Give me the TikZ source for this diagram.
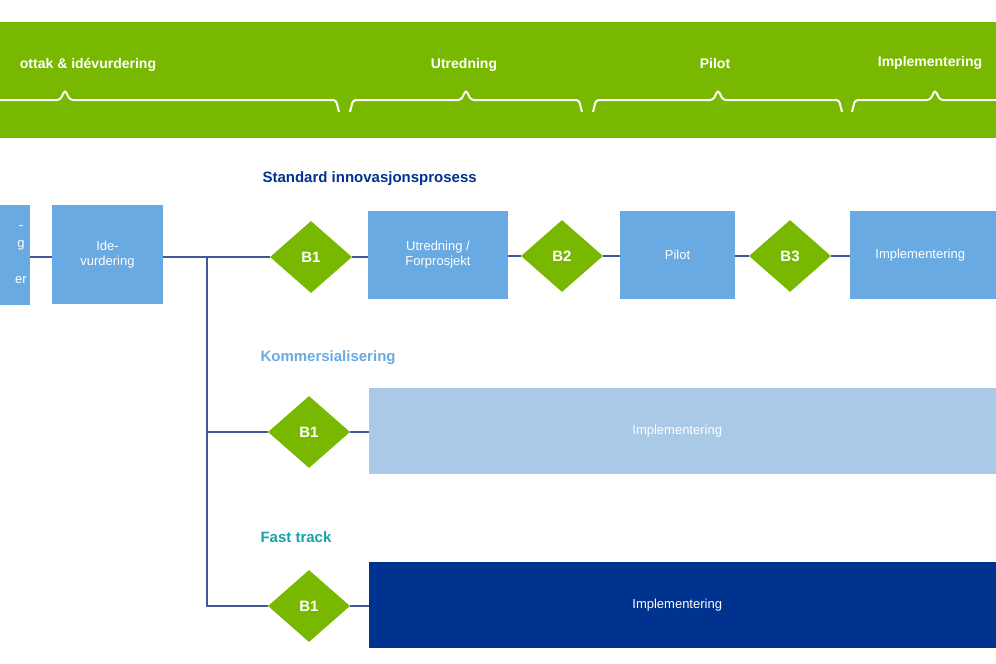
\documentclass[tikz,border=0pt]{standalone}
\usepackage{fontspec}
\setmainfont{Liberation Sans}
\usetikzlibrary{shapes.geometric}
\definecolor{grn}{HTML}{78B800}
\definecolor{box}{HTML}{6AAAE2}
\definecolor{lbox}{HTML}{A9C9E6}
\definecolor{navy}{HTML}{00338F}
\definecolor{ln}{HTML}{3D5A99}
\definecolor{teal}{HTML}{17A2A8}
\begin{document}
\begin{tikzpicture}[x=1pt,y=-1pt,
 bx/.style={fill=box,draw=none,text=white,font=\fontsize{13}{15}\selectfont,align=center,inner sep=0},
 dia/.style={diamond,fill=grn,draw=none,minimum width=82pt,minimum height=72pt,aspect=1.14,inner sep=0,text=white,font=\bfseries\fontsize{15}{17}\selectfont},
 lnk/.style={draw=ln,line width=1.1pt},
 br/.style={draw=white,line width=2pt,rounded corners=3pt},
 hd/.style={text=white,font=\bfseries\fontsize{14}{16}\selectfont},
 tl/.style={font=\bfseries\fontsize{15}{17}\selectfont,anchor=west}]
\useasboundingbox (0,0) rectangle (996,664);
\clip (0,0) rectangle (996,664);
\fill[grn] (-5,22) rectangle (1001,138);
% brackets
\draw[br] (-5,100) -- (60,100) -- (65,90) -- (70,100) -- (336,100) -- (339,112);
\draw[br] (350,112) -- (353,100) -- (461,100) -- (466,90) -- (471,100) -- (579,100) -- (582,112);
\draw[br] (593,112) -- (596,100) -- (713,100) -- (718,90) -- (723,100) -- (839,100) -- (842,112);
\draw[br] (852,112) -- (855,100) -- (930,100) -- (935,90) -- (940,100) -- (1001,100);
\node[hd] (h1) at (88,65) {ottak \& idévurdering};
\node[hd] (h2) at (464,65) {Utredning};
\node[hd] (h3) at (715,63) {Pilot};
\node[hd] (h4) at (930,63) {Implementering};
% titles
\node[tl,text=navy] (t1) at (259,179) {Standard innovasjonsprosess};
\node[tl,text=box] (t2) at (257,358) {Kommersialisering};
\node[tl,text=teal] (t3) at (257,537) {Fast track};
% row 1
\fill[box] (-5,205) rectangle (30,305);
\node[bx,anchor=east] (n0) at (27,255) {-\\[3pt]g\\[3pt]\strut\\[3pt]er};
\node[bx,minimum width=111pt,minimum height=99pt] (n1) at (107.5,254.5) {Ide-\\vurdering};
\coordinate (n0e) at (30,257);
\node[dia] (b1) at (311,257) {B1};
\node[bx,minimum width=140pt,minimum height=88pt] (u) at (438,255) {Utredning /\\Forprosjekt};
\node[dia] (b2) at (562,256) {B2};
\node[bx,minimum width=115pt,minimum height=88pt] (p) at (677.5,255) {Pilot};
\node[dia] (b3) at (790,256) {B3};
\node[bx,minimum width=160pt,minimum height=88pt,anchor=west] (im) at (850,255) {\hspace*{-10pt}Implementering\hspace*{10pt}};
% row 2
\node[dia] (b1b) at (309,432) {B1};
\node[bx,fill=lbox,minimum width=640pt,minimum height=86pt,anchor=west] (im2) at (369,431) {\hspace*{-12pt}Implementering\hspace*{12pt}};
% row 3
\node[dia] (b1c) at (309,606) {B1};
\node[bx,fill=navy,minimum width=640pt,minimum height=86pt,anchor=west] (im3) at (369,605) {\hspace*{-12pt}Implementering\hspace*{12pt}};
% links
\coordinate (j) at (207,257);
\draw[lnk] (n0e) -- (n1.west|-n0e);
\draw[lnk] (n1.east|-j) -- (b1.west);
\draw[lnk] (b1.east) -- (u.west|-b1);
\draw[lnk] (u.east|-b2) -- (b2.west);
\draw[lnk] (b2.east) -- (p.west|-b2);
\draw[lnk] (p.east|-b3) -- (b3.west);
\draw[lnk] (b3.east) -- (im.west|-b3);
\draw[lnk] (j) -- (j|-b1c) -- (b1c.west);
\draw[lnk] (j|-b1b) -- (b1b.west);
\draw[lnk] (b1b.east) -- (im2.west|-b1b);
\draw[lnk] (b1c.east) -- (im3.west|-b1c);
\end{tikzpicture}
\end{document}
